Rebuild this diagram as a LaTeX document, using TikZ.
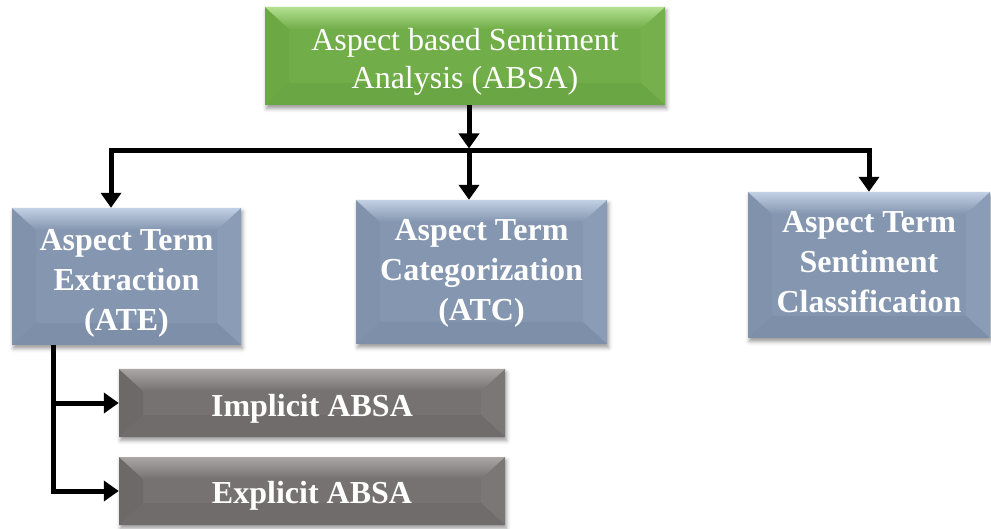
\documentclass[tikz,border=0pt]{standalone}
\usepackage{fontspec}
\setmainfont{Liberation Serif}
\usetikzlibrary{calc,arrows.meta,shadows.blur}

\definecolor{gFace}{HTML}{71AD48}
\definecolor{gTop}{HTML}{B2E090}
\definecolor{gLeft}{HTML}{6CA944}
\definecolor{gRight}{HTML}{75B04C}
\definecolor{gBot}{HTML}{6AA643}

\definecolor{bFace}{HTML}{8496B0}
\definecolor{bTop}{HTML}{C2D0E4}
\definecolor{bLeft}{HTML}{8092AC}
\definecolor{bRight}{HTML}{8B9DB6}
\definecolor{bBot}{HTML}{7D8FA9}

\definecolor{kFace}{HTML}{777272}
\definecolor{kTop}{HTML}{AAA6A6}
\definecolor{kLeft}{HTML}{6E6969}
\definecolor{kRight}{HTML}{7C7777}
\definecolor{kBot}{HTML}{716C6C}

\tikzset{
  % bevelled box: face, top edge, left bevel, right bevel, bottom bevel
  bevelbox/.style n args={5}{
    rectangle, inner sep=0pt, fill=#1,
    blur shadow={shadow xshift=1.5pt, shadow yshift=-3.5pt,
                 shadow blur radius=4pt, shadow opacity=40},
    path picture={
      \path (path picture bounding box.north west) coordinate (pNW)
            (path picture bounding box.north east) coordinate (pNE)
            (path picture bounding box.south west) coordinate (pSW)
            (path picture bounding box.south east) coordinate (pSE);
      \coordinate (iNW) at ($(pNW)+(24pt,-22pt)$);
      \coordinate (iNE) at ($(pNE)+(-24pt,-22pt)$);
      \coordinate (iSW) at ($(pSW)+(24pt,22pt)$);
      \coordinate (iSE) at ($(pSE)+(-24pt,22pt)$);
      \fill[#3] (pNW) -- (iNW) -- (iSW) -- (pSW) -- cycle;
      \fill[#4] (pNE) -- (iNE) -- (iSE) -- (pSE) -- cycle;
      \fill[#5] (pSW) -- (iSW) -- (iSE) -- (pSE) -- cycle;
      \shade[top color=#2, bottom color=#1]
            (pNW) -- (pNE) -- (iNE) -- (iNW) -- cycle;
    }},
  greenbox/.style={bevelbox={gFace}{gTop}{gLeft}{gRight}{gBot}},
  bluebox/.style={bevelbox={bFace}{bTop}{bLeft}{bRight}{bBot}},
  graybox/.style={bevelbox={kFace}{kTop}{kLeft}{kRight}{kBot}},
  plaintext/.style={text=white, align=center, inner sep=0pt,
    font=\fontsize{32}{38}\selectfont},
  boldtext/.style={text=white, align=center, inner sep=0pt,
    font=\fontsize{32}{40}\selectfont\bfseries},
  link/.style={line width=5pt, line join=miter, draw=black},
  tip/.style={-{Triangle[width=20pt,length=15pt]}},
  tips/.style={{Triangle[width=20pt,length=15pt]}-{Triangle[width=20pt,length=15pt]}}
}

\begin{document}
\begin{tikzpicture}[x=1pt,y=-1pt]
  \useasboundingbox (0,0) rectangle (991,529);

  % boxes
  \node[greenbox, minimum width=400pt, minimum height=98pt] (absa) at (465,56) {};
  \node[bluebox, minimum width=229pt, minimum height=137pt] (ate) at (126.5,276.5) {};
  \node[bluebox, minimum width=251pt, minimum height=144pt] (atc) at (481.5,272) {};
  \node[bluebox, minimum width=242pt, minimum height=146pt] (atsc) at (869,265) {};
  \node[graybox, minimum width=386pt, minimum height=68pt] (impl) at (312,403) {};
  \node[graybox, minimum width=386pt, minimum height=68pt] (expl) at (312,491) {};

  % box labels
  \node[plaintext] (absa-t) at ($(absa.center)+(0,6)$)
    {Aspect based Sentiment\\Analysis (ABSA)};
  \node[boldtext] (ate-t) at ($(ate.center)+(0,7)$)
    {Aspect Term\\Extraction\\(ATE)};
  \node[boldtext] (atc-t) at ($(atc.center)+(0,1)$)
    {Aspect Term\\Categorization\\(ATC)};
  \node[boldtext] (atsc-t) at ($(atsc.center)+(0,-3)$)
    {Aspect Term\\Sentiment\\Classification};
  \node[boldtext] (impl-t) at ($(impl.center)+(0,6)$) {Implicit ABSA};
  \node[boldtext] (expl-t) at ($(expl.center)+(0,5)$) {Explicit ABSA};

  % junction points of the tree
  \coordinate (hub) at (469,151);
  \coordinate (jl) at (111,151);
  \coordinate (jr) at (869,151);
  \coordinate (br) at (53,345);

  % connectors
  \draw[link, tips] (jl |- ate.north) -- (jl) -- (jr) -- (jr |- atsc.north);
  \draw[link, tip, shorten >=2.5pt] (hub |- absa.south) -- (hub);
  \draw[link, tip] (hub) -- (hub |- atc.north);
  \draw[link, tip] (br) -- (br |- expl.west) -- (expl.west);
  \draw[link, tip] (br |- impl.west) -- (impl.west);
\end{tikzpicture}
\end{document}
